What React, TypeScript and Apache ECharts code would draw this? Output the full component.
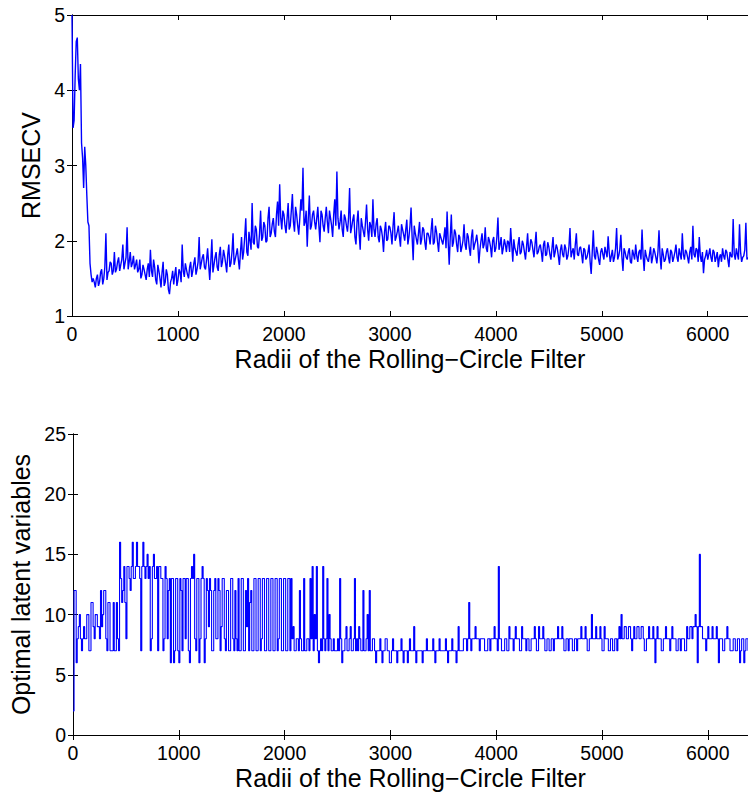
import React, { useEffect, useRef } from "react";
import * as echarts from "echarts";

// Radii grid of the rolling-circle filter (one reading every 10)
const RADIUS_STEP = 10;
const X_MAX = 6380;
const X_TICKS = [0, 1000, 2000, 3000, 4000, 5000, 6000];
const RMSECV_TICKS = [1, 2, 3, 4, 5];
const LV_TICKS = [0, 5, 10, 15, 20, 25];

// RMSECV (20 readings per line = 200 radius units)
const RMSECV = [
  5.0, 3.5, 3.6, 4.2, 4.65, 4.7, 4.15, 4.0, 4.35, 3.3, 3.1, 2.7, 3.25, 3.0, 2.6, 2.25, 2.2, 1.7, 1.55, 1.45,
  1.5, 1.45, 1.38, 1.5, 1.55, 1.4, 1.45, 1.58, 1.62, 1.42, 1.5, 1.65, 2.1, 1.48, 1.58, 1.6, 1.72, 1.7, 1.55, 1.6,
  1.85, 1.58, 1.62, 1.72, 1.78, 1.6, 1.68, 1.75, 1.95, 1.62, 1.7, 1.78, 2.18, 1.62, 1.72, 1.85, 1.65, 1.7, 1.8, 1.62,
  1.68, 1.75, 1.58, 1.62, 1.75, 1.5, 1.55, 1.68, 1.62, 1.55, 1.48, 1.62, 1.7, 1.52, 1.88, 1.6, 1.52, 1.75, 1.65, 1.48,
  1.42, 1.68, 1.6, 1.5, 1.38, 1.58, 1.72, 1.4, 1.45, 1.62, 1.55, 1.35, 1.29, 1.45, 1.5, 1.6, 1.42, 1.55, 1.65, 1.4,
  1.48, 1.62, 1.58, 1.45, 1.95, 1.6, 1.52, 1.7, 1.62, 1.55, 1.5, 1.65, 1.72, 1.52, 1.6, 1.7, 1.78, 1.55, 1.62, 1.72,
  2.05, 1.62, 1.7, 1.78, 1.82, 1.65, 1.62, 1.75, 1.9, 1.68, 1.48, 1.72, 2.02, 1.58, 1.68, 1.78, 1.85, 1.65, 1.6, 1.82,
  1.92, 1.65, 1.72, 1.88, 1.8, 1.7, 1.58, 1.82, 1.95, 1.65, 1.7, 1.85, 2.1, 1.68, 1.75, 1.82, 1.9, 1.75, 1.62, 1.85,
  2.05, 1.75, 1.85, 2.05, 2.3, 1.85, 1.8, 2.12, 2.0, 1.88, 2.5, 1.98, 1.95, 2.2, 2.15, 1.92, 1.9, 2.1, 2.4, 2.0,
  2.05, 2.25, 2.2, 1.98, 2.0, 2.3, 2.45, 2.05, 2.1, 2.22, 2.3, 2.12, 2.05, 2.35, 2.52, 2.2, 2.75, 2.3, 2.15, 2.4,
  2.35, 2.2, 2.1, 2.3, 2.5, 2.15, 2.2, 2.4, 2.62, 2.25, 2.12, 2.45, 2.35, 2.2, 2.08, 2.3, 2.55, 2.4, 2.97, 2.2,
  2.25, 2.4, 1.92, 2.3, 2.6, 2.15, 2.2, 2.35, 2.4, 2.25, 2.15, 2.3, 2.45, 2.2, 1.98, 2.4, 2.35, 2.2, 2.12, 2.3,
  2.45, 2.25, 2.1, 2.4, 2.3, 2.2, 2.05, 2.35, 2.55, 2.2, 2.92, 2.3, 2.15, 2.25, 2.4, 2.15, 2.05, 2.35, 2.3, 2.2,
  2.12, 2.3, 2.7, 2.1, 2.18, 2.28, 2.35, 2.05, 1.95, 2.25, 2.4, 2.1, 1.88, 2.3, 2.2, 2.12, 2.05, 2.25, 2.48, 2.15,
  2.0, 2.25, 2.2, 2.05, 2.55, 2.15, 2.05, 2.22, 2.3, 2.05, 1.98, 2.2, 2.15, 2.05, 1.85, 2.12, 2.25, 2.0, 2.02, 2.2,
  2.18, 2.1, 1.95, 2.2, 2.38, 2.0, 2.05, 2.12, 2.2, 2.05, 1.92, 2.22, 2.15, 2.08, 2.0, 2.15, 2.28, 1.95, 2.05, 2.2,
  2.44, 2.05, 1.74, 2.2, 2.1, 2.02, 1.95, 2.1, 2.25, 1.95, 2.02, 2.18, 2.15, 1.98, 1.88, 2.1, 2.1, 2.05, 1.95, 2.15,
  2.3, 1.95, 1.98, 2.2, 2.12, 1.98, 1.85, 2.1, 2.05, 2.0, 1.95, 2.05, 2.18, 1.9, 2.39, 2.0, 1.68, 2.05, 2.35, 1.92,
  1.98, 2.15, 2.1, 1.95, 1.85, 2.08, 2.05, 1.85, 1.92, 2.0, 2.22, 1.95, 1.88, 2.1, 2.05, 1.9, 1.8, 2.05, 2.15, 1.88,
  1.95, 2.0, 2.08, 1.95, 1.7, 1.88, 2.0, 2.1, 1.9, 1.95, 2.18, 1.9, 1.85, 2.05, 2.0, 1.92, 1.78, 2.0, 2.05, 1.85,
  1.9, 2.05, 2.31, 1.88, 1.95, 2.05, 1.82, 1.9, 2.02, 1.95, 1.85, 2.0, 1.98, 1.85, 2.17, 1.95, 1.72, 2.02, 1.9, 1.85,
  1.8, 1.95, 2.05, 1.82, 1.85, 2.0, 1.95, 1.85, 1.75, 1.92, 2.1, 1.85, 1.88, 2.02, 1.98, 1.88, 1.78, 1.95, 2.12, 1.82,
  1.85, 1.92, 1.95, 1.85, 1.72, 1.95, 2.0, 1.8, 1.82, 1.98, 1.92, 1.82, 1.75, 1.9, 2.05, 1.78, 1.85, 1.95, 1.9, 1.8,
  1.68, 1.88, 1.95, 1.82, 1.78, 1.95, 1.9, 1.75, 1.8, 1.92, 2.17, 1.78, 1.85, 1.9, 1.75, 1.95, 2.1, 1.82, 1.8, 1.9,
  1.92, 1.82, 1.7, 1.9, 1.88, 1.75, 1.78, 1.85, 1.95, 1.72, 1.56, 1.85, 2.14, 1.8, 1.75, 1.92, 1.85, 1.75, 1.68, 1.85,
  1.9, 1.82, 1.75, 1.92, 1.85, 1.78, 2.06, 1.85, 1.72, 1.8, 1.88, 1.72, 1.78, 1.9, 2.17, 1.75, 1.8, 1.88, 2.08, 1.78,
  1.6, 1.9, 1.85, 1.78, 1.75, 1.85, 1.9, 1.72, 1.7, 1.88, 1.82, 1.75, 1.95, 1.8, 1.72, 1.85, 1.88, 1.75, 2.15, 1.8,
  1.6, 1.88, 1.8, 1.75, 1.72, 1.82, 1.92, 1.7, 1.78, 1.9, 1.85, 1.78, 1.7, 1.85, 2.14, 1.8, 1.62, 1.9, 1.82, 1.72,
  1.75, 1.85, 1.9, 1.78, 1.7, 1.88, 1.85, 1.72, 1.78, 1.85, 1.95, 1.78, 1.72, 1.9, 1.82, 1.75, 2.1, 1.82, 1.75, 1.88,
  1.85, 1.78, 1.7, 1.85, 1.92, 1.75, 2.2, 1.82, 1.78, 1.9, 1.88, 1.72, 2.05, 1.8, 1.72, 1.85, 1.57, 1.75, 1.8, 1.88,
  1.75, 1.82, 1.9, 1.78, 1.72, 1.88, 1.85, 1.72, 1.78, 1.85, 1.65, 1.78, 1.82, 1.72, 1.9, 1.8, 1.75, 1.88, 1.85, 1.75,
  1.65, 1.85, 1.8, 1.78, 2.29, 1.82, 1.75, 1.9, 1.82, 1.75, 2.22, 1.85, 1.72, 1.78, 1.8, 1.88, 2.24, 1.75, 1.78,
];

// Optimal number of latent variables (same radius grid)
const LATENT = [
  2, 12, 12, 6, 8, 9, 10, 8, 7, 8, 9, 8, 8, 10, 10, 7, 7, 11, 11, 9,
  8, 10, 10, 9, 9, 8, 12, 9, 10, 12, 12, 8, 7, 11, 11, 7, 7, 7, 11, 7,
  7, 11, 8, 7, 16, 13, 11, 12, 14, 11, 8, 14, 14, 13, 12, 14, 16, 13, 13, 14,
  16, 14, 14, 13, 7, 14, 16, 14, 13, 14, 15, 13, 14, 7, 8, 14, 15, 13, 13, 14,
  7, 14, 14, 13, 13, 7, 8, 14, 13, 8, 12, 13, 6, 13, 13, 6, 7, 13, 13, 7,
  6, 13, 12, 7, 13, 13, 8, 13, 13, 7, 6, 13, 14, 13, 15, 8, 7, 13, 13, 6,
  8, 13, 14, 13, 6, 8, 13, 12, 9, 13, 12, 7, 7, 12, 13, 8, 8, 13, 12, 7,
  9, 13, 13, 8, 7, 12, 12, 7, 7, 13, 13, 8, 7, 12, 8, 7, 13, 7, 7, 13,
  13, 7, 7, 12, 9, 13, 7, 11, 12, 7, 7, 13, 13, 7, 7, 13, 13, 7, 8, 13,
  13, 7, 7, 13, 13, 7, 7, 13, 13, 7, 7, 13, 13, 7, 8, 13, 13, 7, 7, 13,
  13, 7, 7, 13, 13, 7, 13, 8, 9, 7, 7, 8, 8, 7, 12, 8, 7, 7, 13, 7,
  7, 8, 8, 7, 13, 8, 14, 7, 10, 8, 14, 7, 6, 7, 8, 7, 14, 8, 7, 8,
  13, 7, 10, 8, 7, 7, 8, 7, 7, 7, 8, 7, 13, 8, 6, 7, 7, 8, 9, 7,
  7, 8, 9, 7, 7, 8, 13, 7, 8, 7, 9, 8, 7, 7, 12, 7, 7, 8, 10, 7,
  12, 7, 7, 8, 8, 7, 6, 7, 7, 7, 8, 7, 6, 7, 7, 8, 8, 7, 7, 6,
  6, 7, 8, 7, 7, 7, 6, 7, 7, 7, 8, 7, 6, 7, 7, 7, 6, 7, 8, 7,
  7, 7, 9, 7, 6, 7, 7, 7, 7, 7, 6, 7, 7, 7, 8, 7, 7, 7, 7, 7,
  8, 7, 6, 7, 7, 7, 8, 7, 7, 7, 7, 7, 8, 7, 6, 7, 7, 7, 8, 7,
  7, 7, 6, 7, 9, 7, 7, 7, 7, 8, 8, 8, 7, 8, 11, 8, 7, 8, 8, 8,
  9, 8, 8, 8, 7, 8, 8, 8, 8, 7, 7, 7, 8, 8, 7, 8, 8, 8, 9, 8,
  8, 7, 14, 8, 8, 7, 7, 7, 8, 8, 7, 7, 9, 8, 8, 8, 7, 8, 9, 8,
  8, 8, 7, 7, 9, 8, 8, 8, 7, 8, 8, 7, 7, 8, 8, 8, 9, 8, 7, 7,
  9, 8, 8, 8, 9, 8, 7, 7, 8, 8, 7, 7, 8, 8, 7, 8, 8, 8, 9, 8,
  8, 8, 9, 8, 7, 7, 8, 8, 7, 8, 8, 8, 7, 7, 8, 8, 7, 8, 8, 8,
  9, 8, 8, 8, 9, 8, 7, 7, 8, 8, 10, 8, 8, 8, 9, 8, 8, 8, 9, 8,
  7, 7, 9, 8, 8, 8, 7, 7, 8, 8, 7, 7, 8, 8, 7, 8, 9, 8, 10, 8,
  8, 9, 9, 8, 8, 9, 9, 8, 7, 8, 9, 8, 8, 9, 9, 8, 8, 9, 9, 8,
  7, 7, 8, 8, 9, 8, 8, 8, 9, 8, 6, 8, 9, 8, 8, 8, 7, 7, 8, 8,
  9, 8, 8, 8, 7, 8, 9, 8, 8, 8, 7, 7, 8, 8, 7, 8, 8, 8, 7, 7,
  9, 8, 8, 9, 9, 8, 9, 9, 10, 9, 6, 9, 15, 9, 9, 8, 8, 8, 7, 8,
  9, 8, 8, 8, 9, 8, 8, 8, 9, 8, 6, 8, 8, 8, 7, 7, 8, 8, 9, 8,
  8, 7, 7, 7, 8, 8, 7, 7, 8, 8, 6, 7, 8, 8, 6, 7, 8, 8, 7,
];

const RADII = RMSECV.map((_, i) => i * RADIUS_STEP);

const FONT = "Liberation Sans, Arial, Helvetica, sans-serif";
const X_NAME = "Radii of the Rolling\u2212Circle Filter";

export default function App() {
  const ref = useRef<HTMLDivElement>(null);

  useEffect(() => {
    if (!ref.current) return;
    const chart = echarts.init(ref.current, undefined, { renderer: "svg" });

    const axisLine = { show: true, lineStyle: { color: "#000", width: 1 } };
    const tickIn = { show: true, inside: true, length: 5, lineStyle: { color: "#000", width: 1 } };
    const lbl = { color: "#000", fontFamily: FONT, fontSize: 19.5 };
    const nameStyle = { color: "#000", fontFamily: FONT, fontSize: 25 };

    const xBottom = (grid: number) => ({
      type: "value",
      gridIndex: grid,
      position: "bottom",
      min: X_TICKS[0],
      max: X_MAX,
      interval: 1000,
      axisLine,
      axisTick: tickIn,
      splitLine: { show: false },
      axisLabel: {
        ...lbl,
        margin: 8,
        showMaxLabel: false,
        formatter: (v: number) => (X_TICKS.includes(v) ? String(v) : ""),
      },
      name: X_NAME,
      nameLocation: "middle",
      nameGap: 30,
      nameTextStyle: nameStyle,
    });
    const xTop = (grid: number) => ({
      type: "value",
      gridIndex: grid,
      position: "top",
      min: X_TICKS[0],
      max: X_MAX,
      interval: 1000,
      axisLine,
      axisTick: tickIn,
      splitLine: { show: false },
      axisLabel: { show: false },
    });
    const yLeft = (grid: number, ticks: number[], name: string, gap: number) => ({
      type: "value",
      gridIndex: grid,
      position: "left",
      min: ticks[0],
      max: ticks[ticks.length - 1],
      interval: ticks[1] - ticks[0],
      axisLine,
      axisTick: tickIn,
      splitLine: { show: false },
      axisLabel: { ...lbl, margin: 7 },
      name,
      nameLocation: "middle",
      nameGap: gap,
      nameRotate: 90,
      nameTextStyle: nameStyle,
    });
    const yRight = (grid: number, ticks: number[]) => ({
      type: "value",
      gridIndex: grid,
      position: "right",
      min: ticks[0],
      max: ticks[ticks.length - 1],
      interval: ticks[1] - ticks[0],
      axisLine,
      axisTick: tickIn,
      splitLine: { show: false },
      axisLabel: { show: false },
    });

    chart.setOption({
      animation: false,
      backgroundColor: "#fff",
      grid: [
        { left: 72, top: 15, width: 678, height: 301 },
        { left: 72, top: 434, width: 678, height: 301 },
      ],
      xAxis: [xBottom(0), xTop(0), xBottom(1), xTop(1)],
      yAxis: [
        yLeft(0, RMSECV_TICKS, "RMSECV", 28),
        yRight(0, RMSECV_TICKS),
        yLeft(1, LV_TICKS, "Optimal latent variables", 40),
        yRight(1, LV_TICKS),
      ],
      series: [
        {
          type: "line",
          xAxisIndex: 0,
          yAxisIndex: 0,
          data: RADII.map((r, i) => [r, RMSECV[i]]),
          showSymbol: false,
          lineStyle: { color: "#0000ff", width: 1.4 },
          itemStyle: { color: "#0000ff" },
        },
        {
          type: "line",
          xAxisIndex: 2,
          yAxisIndex: 2,
          step: "end",
          data: RADII.map((r, i) => [r, LATENT[i]]),
          showSymbol: false,
          lineStyle: { color: "#0000ff", width: 1.1 },
          itemStyle: { color: "#0000ff" },
        },
      ],
    });

    return () => chart.dispose();
  }, []);

  return (
    <div
      ref={ref}
      style={{ position: "absolute", left: 0, top: 0, width: 748, height: 796, background: "#fff" }}
    />
  );
}
